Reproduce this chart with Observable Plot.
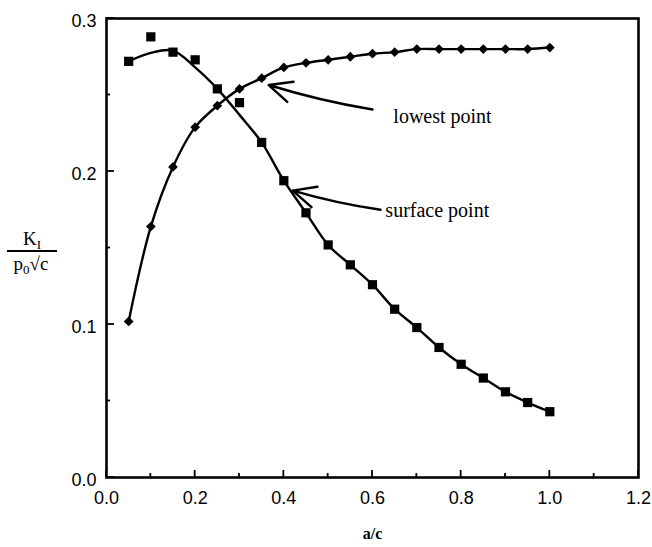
<!DOCTYPE html>
<html>
<head>
<meta charset="utf-8">
<script src="https://cdn.jsdelivr.net/npm/d3@7"></script>
<script src="https://cdn.jsdelivr.net/npm/@observablehq/plot@0.6"></script>
<style>
  body { margin: 0; background: #fff; }
  #chart { width: 652px; height: 547px; }
</style>
</head>
<body>
<div id="chart"></div>
<script>
// Crack aspect ratio a/c
const ratio = [0.05, 0.10, 0.15, 0.20, 0.25, 0.30, 0.35, 0.40, 0.45, 0.50,
               0.55, 0.60, 0.65, 0.70, 0.75, 0.80, 0.85, 0.90, 0.95, 1.00];

// Normalised stress intensity K_I / (p0 sqrt(c)) at the lowest point of the crack front
const lowestK = [0.102, 0.164, 0.203, 0.229, 0.243, 0.254, 0.261, 0.268, 0.271, 0.273,
                 0.275, 0.277, 0.278, 0.280, 0.280, 0.280, 0.280, 0.280, 0.280, 0.281];

// Same quantity at the surface point
const surfaceK = [0.272, 0.288, 0.278, 0.273, 0.254, 0.245, 0.219, 0.194, 0.173, 0.152,
                  0.139, 0.126, 0.110, 0.098, 0.085, 0.074, 0.065, 0.056, 0.049, 0.043];

// Smoothed trend through the surface-point results
const surfaceFit = [0.272, 0.2775, 0.279, 0.268, 0.254, 0.237, 0.219, 0.194, 0.173, 0.152,
                    0.139, 0.126, 0.110, 0.098, 0.085, 0.074, 0.065, 0.056, 0.049, 0.043];

// Axis ticks
const xTickLabels = [0.0, 0.2, 0.4, 0.6, 0.8, 1.0, 1.2];
const xMinorTicks = [0.1, 0.3, 0.5, 0.7, 0.9, 1.1];
const yTickLabels = [0.0, 0.1, 0.2, 0.3];
const yMinorTicks = [0.05, 0.15, 0.25];

// Callouts: arrow from the label towards the curve
const callouts = [
  {label: "lowest point",  x1: 0.600, y1: 0.2405, x2: 0.366, y2: 0.2565, tx: 0.647, ty: 0.236},
  {label: "surface point", x1: 0.618, y1: 0.1750, x2: 0.420, y2: 0.1875, tx: 0.629, ty: 0.1745}
];

const lowest = ratio.map((r, i) => ({r, k: lowestK[i]}));
const surface = ratio.map((r, i) => ({r, k: surfaceK[i]}));
const surfaceTrend = ratio.map((r, i) => ({r, k: surfaceFit[i]}));

const W = 652, H = 547;
const mTop = 18, mRight = 14, mBottom = 70, mLeft = 106;

const tickFont = "'Liberation Sans', Arial, sans-serif";
const serif = "'Liberation Serif', 'Times New Roman', serif";

const chart = Plot.plot({
  width: W,
  height: H,
  marginTop: mTop,
  marginRight: mRight,
  marginBottom: mBottom,
  marginLeft: mLeft,
  style: {fontFamily: tickFont, background: "#fff", color: "#000", overflow: "visible"},
  x: {domain: [0, 1.2]},
  y: {domain: [0, 0.3]},
  marks: [
    // tick labels
    Plot.axisX({ticks: xTickLabels, tickSize: 0, tickPadding: 14, tickFormat: d3.format(".1f"),
                fontSize: 18, label: null, stroke: "#000", strokeWidth: 0.35}),
    Plot.axisY({ticks: yTickLabels, tickSize: 0, tickPadding: 10, tickFormat: d3.format(".1f"),
                fontSize: 18, dy: 3, label: null, stroke: "#000", strokeWidth: 0.35}),
    Plot.text(["a/c"], {frameAnchor: "bottom", dy: 61, fontSize: 16, fontFamily: serif,
                        fontWeight: "bold", text: d => d}),
    Plot.frame({stroke: "#000", strokeWidth: 2.6}),
    // curves
    Plot.line(lowest, {x: "r", y: "k", curve: "catmull-rom", stroke: "#000", strokeWidth: 2.4}),
    Plot.line(surfaceTrend, {x: "r", y: "k", curve: "catmull-rom", stroke: "#000", strokeWidth: 2.4}),
    // computed points
    Plot.dot(lowest, {x: "r", y: "k", symbol: "diamond2", r: 4.4, fill: "#000", stroke: "none"}),
    Plot.dot(surface, {x: "r", y: "k", symbol: "square", r: 5.2, fill: "#000", stroke: "none"}),
    // callouts
    Plot.arrow(callouts, {x1: "x1", y1: "y1", x2: "x2", y2: "y2", stroke: "#000", strokeWidth: 2.5,
                          headLength: 15, headAngle: 50, bend: 4, insetStart: 0, insetEnd: 0}),
    Plot.text(callouts, {x: "tx", y: "ty", text: "label", textAnchor: "start", fontSize: 20,
                         fontFamily: serif, fill: "#000"})
  ]
});

const svg = d3.select(chart);
const xs = chart.scale("x"), ys = chart.scale("y");
const [x0] = xs.range, [y0] = ys.range;

// Inward tick marks on the bottom and left edges, placed with the plot's scales
const ticks = svg.append("g").attr("stroke", "#000").attr("stroke-width", 1.8);
const xTick = (v, len) => ticks.append("line")
  .attr("x1", xs.apply(v)).attr("x2", xs.apply(v)).attr("y1", y0).attr("y2", y0 - len);
const yTick = (v, len) => ticks.append("line")
  .attr("y1", ys.apply(v)).attr("y2", ys.apply(v)).attr("x1", x0).attr("x2", x0 + len);
xTickLabels.forEach(v => xTick(v, 7));
xMinorTicks.forEach(v => xTick(v, 4));
yTickLabels.forEach(v => yTick(v, 8));
yMinorTicks.forEach(v => yTick(v, 4));

// Vertical axis title drawn as a stacked fraction: K_I over p0 sqrt(c)
const title = svg.append("g")
  .attr("font-family", serif)
  .attr("font-size", 19)
  .attr("fill", "#000")
  .attr("text-anchor", "middle");
const num = title.append("text").attr("x", 32).attr("y", 245);
num.append("tspan").text("K");
num.append("tspan").attr("font-size", 13).attr("dy", 4).text("I");
title.append("line")
  .attr("x1", 7).attr("x2", 57).attr("y1", 251).attr("y2", 251)
  .attr("stroke", "#000").attr("stroke-width", 1.8);
const den = title.append("text").attr("x", 31).attr("y", 270);
den.append("tspan").text("p");
den.append("tspan").attr("font-size", 13).attr("dy", 4).text("0");
den.append("tspan").attr("dy", -4).text("√c");

document.getElementById("chart").appendChild(chart);
</script>
</body>
</html>
